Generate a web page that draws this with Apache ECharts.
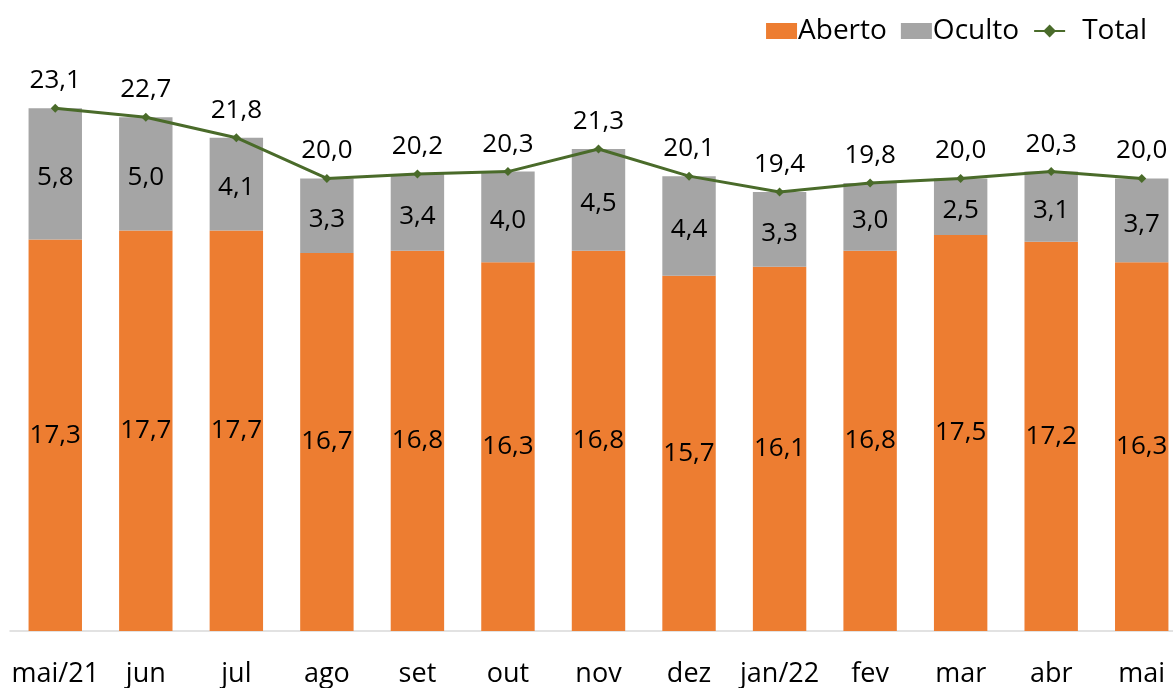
<!DOCTYPE html>
<html>
<head>
<meta charset="utf-8">
<script src="https://cdn.jsdelivr.net/npm/echarts@6/dist/echarts.min.js"></script>
<style>
html,body{margin:0;padding:0;background:#fff;overflow:hidden;}
#c{width:1190px;height:688px;}
</style>
</head>
<body>
<div id="c"></div>
<script>
const categories = ['mai/21','jun','jul','ago','set','out','nov','dez','jan/22','fev','mar','abr','mai'];
const aberto = [17.3,17.7,17.7,16.7,16.8,16.3,16.8,15.7,16.1,16.8,17.5,17.2,16.3];
const oculto = [5.8,5.0,4.1,3.3,3.4,4.0,4.5,4.4,3.3,3.0,2.5,3.1,3.7];
const total = [23.1,22.7,21.8,20.0,20.2,20.3,21.3,20.1,19.4,19.8,20.0,20.3,20.0];

const FONT = '"Open Sans", "Noto Sans", sans-serif';
const fmt = p => Number(p.value).toFixed(1).replace('.', ',');

const chart = echarts.init(document.getElementById('c'), null, {renderer: 'canvas'});
chart.setOption({
  animation: false,
  textStyle: {fontFamily: FONT},
  legend: {
    right: 38, top: 12,
    itemWidth: 31, itemHeight: 16, itemGap: 14,
    textStyle: {fontFamily: FONT, fontSize: 28, color: '#000', padding: [0,0,0,-4]},
    data: [
      {name: 'Aberto', icon: 'rect'},
      {name: 'Oculto', icon: 'rect'},
      {name: 'Total', textStyle: {padding: [0,0,0,12]}}
    ]
  },
  grid: {left: 10, top: 20, right: 3, bottom: 57, containLabel: false},
  xAxis: {
    type: 'category',
    data: categories,
    axisLine: {lineStyle: {color: '#d9d9d9', width: 1.5}},
    axisTick: {show: false},
    axisLabel: {fontFamily: FONT, fontSize: 27, color: '#000', margin: 30, interval: 0}
  },
  yAxis: {
    type: 'value', min: 0, max: 27, show: false,
    splitLine: {show: false}
  },
  series: [
    {
      name: 'Aberto', type: 'bar', stack: 's', data: aberto, barWidth: '59%',
      itemStyle: {color: '#ED7D31'},
      label: {show: true, position: 'inside', formatter: fmt, fontFamily: FONT, fontSize: 26, color: '#000'}
    },
    {
      name: 'Oculto', type: 'bar', stack: 's', data: oculto, barWidth: '59%',
      itemStyle: {color: '#A5A5A5'},
      label: {show: true, position: 'inside', offset: [0, 4], formatter: fmt, fontFamily: FONT, fontSize: 26, color: '#000'}
    },
    {
      name: 'Total', type: 'line', data: total,
      symbol: 'diamond', symbolSize: 9,
      lineStyle: {color: '#4A6B2A', width: 3},
      itemStyle: {color: '#4A6B2A'},
      label: {show: true, position: 'top', distance: 10, formatter: fmt, fontFamily: FONT, fontSize: 26, color: '#000'}
    }
  ]
});
</script>
</body>
</html>
